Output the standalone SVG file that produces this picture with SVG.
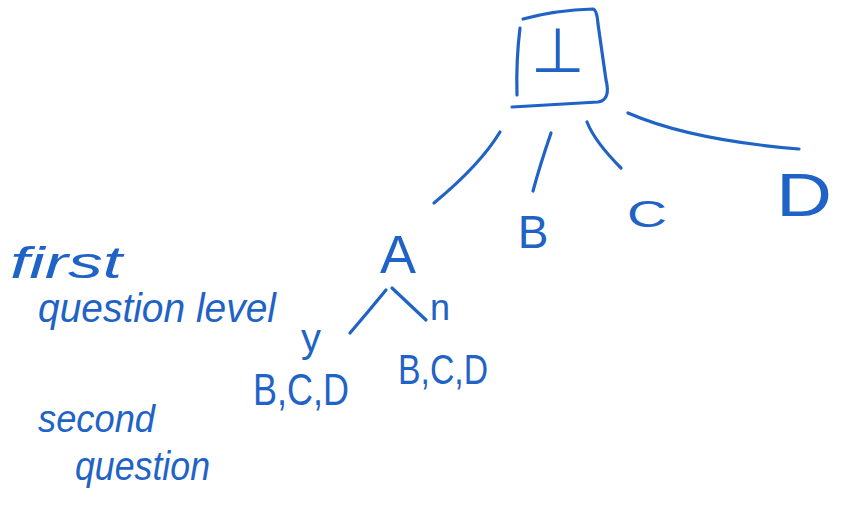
<svg xmlns="http://www.w3.org/2000/svg" width="843" height="508" viewBox="0 0 843 508">
<style>
.ink{fill:none;stroke:#1f63c6;stroke-width:3.2;stroke-linecap:round;stroke-linejoin:round}
.t{fill:#1f63c6;font-family:"Liberation Sans","DejaVu Sans",sans-serif}
.h{fill:#1f63c6;font-family:"Liberation Sans",sans-serif;font-style:italic}
</style>
<rect width="843" height="508" fill="#ffffff"/>
<g id="root">
<path class="ink" d="M523,19 Q556,10 593,9 Q597,10 598,24 L606,80 Q611,100 598,102 L512,107"/>
<path class="ink" d="M520,28 Q516,60 517,95"/>
<text class="t" x="558" y="72" font-size="62" text-anchor="middle">⊥</text>
</g>
<g id="connectors">
<path class="ink" d="M500,132 Q480,165 434,203"/>
<path class="ink" d="M551,133 Q540,165 533,191"/>
<path class="ink" d="M587,122 Q595,142 621,168"/>
<path class="ink" d="M628,113 Q690,140 799,149"/>
<path class="ink" d="M386,290 Q368,312 350,333"/>
<path class="ink" d="M392,288 Q410,305 426,320"/>
</g>
<g id="node-A"><text class="t" x="398" y="273" font-size="54" text-anchor="middle">A</text></g>
<g id="node-B"><text class="t" x="533" y="248" font-size="46" text-anchor="middle">B</text></g>
<g id="node-C"><text class="t" x="647" y="227" font-size="36" text-anchor="middle" textLength="40" lengthAdjust="spacingAndGlyphs">C</text></g>
<g id="node-D"><text class="t" x="804" y="216" font-size="62" text-anchor="middle" textLength="56" lengthAdjust="spacingAndGlyphs">D</text></g>
<g id="label-y"><text class="t" x="311" y="352" font-size="40" text-anchor="middle">y</text></g>
<g id="label-n"><text class="t" x="440" y="320" font-size="36" text-anchor="middle">n</text></g>
<g id="node-yes"><text class="t" x="253" y="405" font-size="44" textLength="96" lengthAdjust="spacingAndGlyphs">B,C,D</text></g>
<g id="node-no"><text class="t" x="398" y="384" font-size="42" textLength="90" lengthAdjust="spacingAndGlyphs">B,C,D</text></g>
<g id="annotation-first">
<text class="h" x="10" y="278" font-size="44" textLength="112" lengthAdjust="spacingAndGlyphs">first</text>
<text class="h" x="38" y="322" font-size="40" textLength="238" lengthAdjust="spacingAndGlyphs">question level</text>
</g>
<g id="annotation-second">
<text class="h" x="38" y="432" font-size="38" textLength="117" lengthAdjust="spacingAndGlyphs">second</text>
<text class="h" x="75" y="480" font-size="40" textLength="135" lengthAdjust="spacingAndGlyphs">question</text>
</g>
</svg>
